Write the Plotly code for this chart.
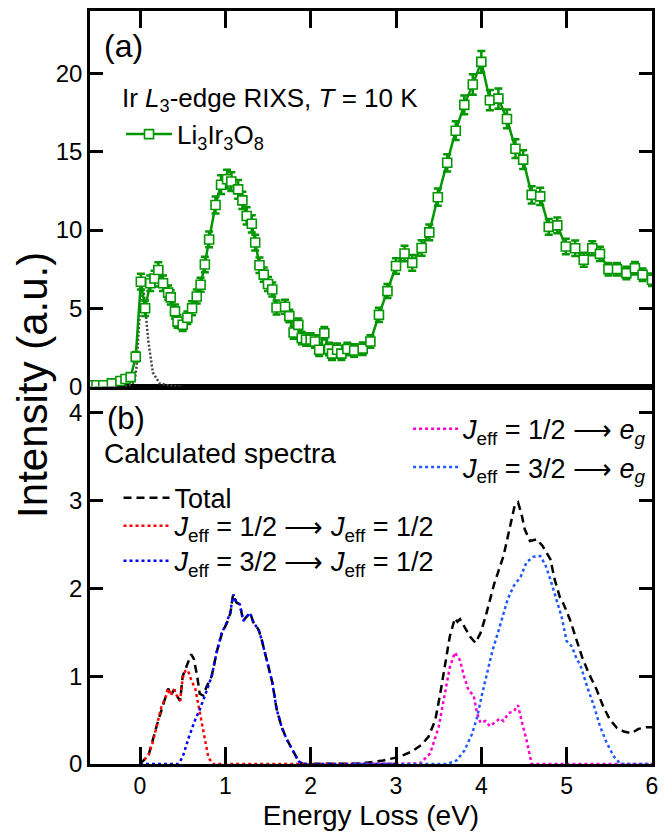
import plotly.graph_objects as go

# ---------------- Panel (a): measured RIXS spectrum ----------------
E_a = [-0.58, -0.51, -0.43, -0.33, -0.23, -0.17, -0.11, -0.05, 0.01, 0.06,
       0.12, 0.17, 0.215, 0.27, 0.33, 0.36, 0.41, 0.44, 0.50, 0.555,
       0.61, 0.665, 0.71, 0.76, 0.81, 0.885, 0.95, 1.02, 1.07, 1.15,
       1.20, 1.25, 1.31, 1.35, 1.40, 1.45, 1.50, 1.55, 1.60, 1.70,
       1.75, 1.80, 1.855, 1.895, 1.946, 2.0, 2.05, 2.10, 2.16, 2.215,
       2.25, 2.31, 2.36, 2.43, 2.51, 2.61, 2.70, 2.80, 2.90, 3.0,
       3.10, 3.19, 3.30, 3.39, 3.49, 3.60, 3.70, 3.80, 3.90, 4.0,
       4.10, 4.20, 4.30, 4.40, 4.49, 4.59, 4.69, 4.79, 4.89, 4.99,
       5.10, 5.20, 5.30, 5.39, 5.49, 5.59, 5.70, 5.80, 5.89, 6.0]
I_a = [0.08, 0.08, 0.08, 0.2, 0.35, 0.48, 0.6, 1.9, 6.7, 5.0,
       6.6, 6.9, 7.45, 6.6, 6.0, 5.7, 4.8, 4.15, 3.95, 4.4,
       5.0, 5.75, 6.5, 7.8, 9.4, 11.6, 12.9, 13.25, 13.1, 12.6,
       11.9, 10.9, 10.4, 9.2, 7.75, 7.15, 6.55, 6.2, 5.05, 5.1,
       4.5, 3.45, 3.94, 3.1, 3.0, 3.0, 2.88, 2.35, 3.4, 2.4,
       2.1, 2.35, 2.1, 2.4, 2.3, 2.42, 2.88, 4.58, 6.1, 7.7,
       8.5, 7.9, 8.85, 9.85, 12.1, 14.3, 16.35, 18.0, 19.3, 20.75,
       18.3, 18.4, 17.1, 15.2, 14.5, 12.25, 12.15, 10.2, 10.3, 8.95,
       8.84, 8.1, 8.84, 8.48, 7.5, 7.5, 7.25, 7.56, 7.14, 6.82]
err_a = [0.1, 0.1, 0.1, 0.1, 0.15, 0.15, 0.2, 0.3, 0.5, 0.5,
         0.5, 0.5, 0.5, 0.5, 0.45, 0.45, 0.45, 0.4, 0.4, 0.4,
         0.45, 0.45, 0.45, 0.5, 0.5, 0.55, 0.6, 0.6, 0.6, 0.6,
         0.55, 0.55, 0.55, 0.5, 0.5, 0.45, 0.45, 0.45, 0.45, 0.45,
         0.4, 0.4, 0.4, 0.4, 0.4, 0.4, 0.4, 0.4, 0.4, 0.4,
         0.4, 0.4, 0.4, 0.4, 0.4, 0.4, 0.4, 0.45, 0.45, 0.5,
         0.5, 0.5, 0.5, 0.5, 0.55, 0.55, 0.6, 0.6, 0.65, 0.7,
         0.65, 0.65, 0.6, 0.6, 0.6, 0.55, 0.55, 0.5, 0.5, 0.5,
         0.5, 0.45, 0.45, 0.45, 0.4, 0.4, 0.4, 0.4, 0.4, 0.4]

# elastic line
E_el = [-0.55, -0.3, -0.15, -0.1, -0.06, -0.04, -0.02, 0.0, 0.02, 0.04, 0.06, 0.1, 0.15, 0.23, 0.35, 0.5]
I_el = [0, 0, 0.02, 0.1, 0.4, 1.3, 3.4, 5.8, 7.0, 6.2, 4.9, 2.8, 0.9, 0.2, 0.05, 0]

# ---------------- Panel (b): calculated spectra ----------------
E_tot = [0, 0.1, 0.2, 0.3, 0.33, 0.36, 0.4, 0.43, 0.47, 0.5,
         0.53, 0.56, 0.6, 0.63, 0.67, 0.7, 0.74, 0.78, 0.84, 0.9,
         0.96, 1.02, 1.06, 1.09, 1.13, 1.17, 1.21, 1.25, 1.29, 1.33,
         1.39, 1.43, 1.49, 1.55, 1.6, 1.66, 1.72, 1.8, 1.86, 1.91,
         2.0, 2.3, 2.58, 2.85, 3.03, 3.18, 3.3, 3.38, 3.46, 3.52,
         3.58, 3.63, 3.69, 3.72, 3.75, 3.81, 3.87, 3.93, 3.99, 4.05,
         4.1, 4.15, 4.26, 4.33, 4.39, 4.43, 4.47, 4.51, 4.57, 4.65,
         4.72, 4.81, 4.86, 4.92, 4.96, 5.04, 5.1, 5.18, 5.26, 5.35,
         5.43, 5.51, 5.59, 5.67, 5.76, 5.84, 5.94, 6.0]
V_tot = [0, 0.1, 0.45, 0.76, 0.86, 0.78, 0.85, 0.78, 0.72, 1.0,
         1.08, 1.15, 1.25, 1.2, 1.0, 0.8, 0.78, 0.88, 1.0, 1.28,
         1.49, 1.61, 1.72, 1.93, 1.84, 1.82, 1.63, 1.68, 1.72, 1.61,
         1.53, 1.4, 1.15, 0.93, 0.63, 0.42, 0.28, 0.13, 0.03, 0,
         0, 0, 0.005, 0.04, 0.08, 0.14, 0.22, 0.31, 0.5, 0.81,
         1.15, 1.45, 1.66, 1.62, 1.65, 1.55, 1.45, 1.38, 1.49, 1.68,
         1.87, 2.05, 2.37, 2.67, 2.94, 2.98, 2.85, 2.67, 2.54, 2.56,
         2.48, 2.33, 2.1, 1.9, 1.83, 1.64, 1.45, 1.22, 1.03, 0.85,
         0.65, 0.5, 0.41, 0.37, 0.35, 0.4, 0.42, 0.42]

E_r = [0, 0.05, 0.1, 0.15, 0.2, 0.25, 0.3, 0.33, 0.36, 0.4, 0.43, 0.47,
       0.5, 0.53, 0.56, 0.6, 0.65, 0.7, 0.75, 0.8, 0.85, 3.0]
V_r = [0, 0.05, 0.1, 0.25, 0.45, 0.65, 0.76, 0.86, 0.78, 0.85, 0.78, 0.72,
       0.98, 1.06, 1.07, 0.96, 0.85, 0.58, 0.32, 0.08, 0, 0]

E_b1 = [0, 0.45, 0.5, 0.567, 0.645, 0.7, 0.78, 0.84, 0.9, 0.957,
        1.016, 1.055, 1.094, 1.13, 1.17, 1.21, 1.25, 1.29, 1.33, 1.39,
        1.43, 1.49, 1.55, 1.6, 1.66, 1.72, 1.8, 1.86, 1.91, 3.0]
V_b1 = [0, 0, 0.08, 0.29, 0.5, 0.62, 0.83, 1.0, 1.28, 1.49,
        1.61, 1.72, 1.93, 1.84, 1.82, 1.63, 1.68, 1.72, 1.61, 1.53,
        1.4, 1.15, 0.93, 0.63, 0.42, 0.28, 0.13, 0.03, 0, 0]

E_m = [2.5, 3.28, 3.4, 3.5, 3.58, 3.63, 3.69, 3.75, 3.8, 3.85,
       3.91, 3.95, 3.99, 4.05, 4.1, 4.16, 4.22, 4.26, 4.32, 4.38,
       4.43, 4.47, 4.53, 4.59, 6.0]
V_m = [0, 0.005, 0.12, 0.42, 0.84, 1.1, 1.27, 1.18, 0.99, 0.84,
       0.78, 0.58, 0.47, 0.49, 0.43, 0.47, 0.52, 0.49, 0.58, 0.6,
       0.67, 0.5, 0.27, 0, 0]

E_b2 = [2.5, 3.6, 3.71, 3.8, 3.89, 3.95, 4.01, 4.07, 4.13, 4.19,
        4.25, 4.31, 4.38, 4.46, 4.53, 4.61, 4.69, 4.75, 4.81, 4.88,
        4.94, 5.0, 5.06, 5.12, 5.16, 5.24, 5.32, 5.39, 5.47, 5.55,
        5.63, 6.0]
V_b2 = [0, 0, 0.04, 0.15, 0.34, 0.53, 0.8, 1.06, 1.29, 1.48,
        1.69, 1.88, 2.03, 2.13, 2.3, 2.36, 2.37, 2.27, 2.1, 1.87,
        1.68, 1.4, 1.34, 1.19, 1.13, 0.88, 0.66, 0.43, 0.24, 0.09,
        0, 0]

x_ticks = [0, 1, 2, 3, 4, 5, 6]
ya_ticks = [0, 5, 10, 15, 20]
yb_ticks = [0, 1, 2, 3, 4]

GREEN = "#009600"
FONT = "Liberation Sans, Arial, Helvetica, sans-serif"
SPLIT = 0.5013
ARROW = "⟶"

fig = go.Figure()

# panel (a)
fig.add_trace(go.Scatter(
    x=E_el, y=I_el, mode="lines", xaxis="x2", yaxis="y2", showlegend=False,
    line=dict(color="#444444", width=2.5, dash="2px,2px")))
fig.add_trace(go.Scatter(
    x=E_a, y=I_a, mode="lines+markers", xaxis="x2", yaxis="y2",
    name="Li<sub>3</sub>Ir<sub>3</sub>O<sub>8</sub>", legend="legend",
    line=dict(color=GREEN, width=2.5),
    marker=dict(symbol="square", size=9, color="white", line=dict(color=GREEN, width=1.6)),
    error_y=dict(type="data", array=err_a, visible=True, color=GREEN, thickness=2.5, width=4)))

# panel (b)
fig.add_trace(go.Scatter(x=E_tot, y=V_tot, mode="lines", xaxis="x", yaxis="y",
                         name="Total", legend="legend2",
                         line=dict(color="black", width=2.5, dash="8px,5px")))
fig.add_trace(go.Scatter(x=E_r, y=V_r, mode="lines", xaxis="x", yaxis="y",
                         name="<i>J</i><sub>eff</sub> = 1/2 " + ARROW + " <i>J</i><sub>eff</sub> = 1/2",
                         legend="legend4",
                         line=dict(color="#ff0000", width=2.5, dash="3px,3px")))
fig.add_trace(go.Scatter(x=E_b1, y=V_b1, mode="lines", xaxis="x", yaxis="y",
                         name="<i>J</i><sub>eff</sub> = 3/2 " + ARROW + " <i>J</i><sub>eff</sub> = 1/2",
                         legend="legend5",
                         line=dict(color="#0000ff", width=2.5, dash="3px,3px")))
fig.add_trace(go.Scatter(x=E_m, y=V_m, mode="lines", xaxis="x", yaxis="y",
                         name="<i>J</i><sub>eff</sub> = 1/2 " + ARROW + " <i>e</i><sub><i>g</i></sub>",
                         legend="legend3",
                         line=dict(color="#ff00cc", width=2.5, dash="3px,3px")))
fig.add_trace(go.Scatter(x=E_b2, y=V_b2, mode="lines", xaxis="x", yaxis="y",
                         name="<i>J</i><sub>eff</sub> = 3/2 " + ARROW + " <i>e</i><sub><i>g</i></sub>",
                         legend="legend3",
                         line=dict(color="#1e5aff", width=2.5, dash="3px,3px")))

XR = [-0.586, 6.0]
axis_common = dict(showline=True, linecolor="black", linewidth=2.5, showgrid=False,
                   zeroline=False, tickcolor="black", tickwidth=2.5)

def leg(x, y, size, iw=46):
    return dict(x=x, y=y, xanchor="left", yanchor="top", font=dict(size=size),
                bgcolor="rgba(0,0,0,0)", tracegroupgap=0, itemwidth=iw)

fig.update_layout(
    width=662, height=825,
    margin=dict(l=82, r=18, t=3, b=69),
    paper_bgcolor="white", plot_bgcolor="white",
    font=dict(family=FONT, color="black", size=23),
    xaxis=dict(domain=[0, 1], anchor="y", range=XR, tickvals=x_ticks, ticks="inside", ticklen=17,
               mirror=True, tickfont=dict(size=23),
               title=dict(text="Energy Loss (eV)", font=dict(size=28), standoff=8), **axis_common),
    xaxis2=dict(domain=[0, 1], anchor="y2", range=XR, tickvals=x_ticks, ticks="inside", ticklen=17,
                side="top", mirror=True, showticklabels=False, **axis_common),
    xaxis3=dict(overlaying="x2", anchor="y2", side="bottom", range=XR, tickvals=x_ticks,
                ticks="inside", ticklen=9, showticklabels=False, showline=False, showgrid=False,
                zeroline=False, tickcolor="black", tickwidth=2.5),
    xaxis4=dict(overlaying="x", anchor="y", side="top", range=XR, tickvals=x_ticks,
                ticks="inside", ticklen=9, showticklabels=False, showline=False, showgrid=False,
                zeroline=False, tickcolor="black", tickwidth=2.5),
    yaxis=dict(domain=[0, SPLIT], anchor="x", range=[0, 4.3], tickvals=yb_ticks, ticks="inside",
               ticklen=13, mirror="ticks", tickfont=dict(size=24), **axis_common),
    yaxis2=dict(domain=[SPLIT, 1], anchor="x2", range=[0, 24], tickvals=ya_ticks, ticks="inside",
                ticklen=13, mirror="ticks", tickfont=dict(size=24), **axis_common),
    legend=leg(0.0552, 0.8676, 26),
    legend2=leg(0.0507, 0.3856, 27),
    legend4=leg(0.0507, 0.3482, 27),
    legend5=leg(0.0507, 0.3018, 27),
    legend3=leg(0.566, 0.477, 27, 45),
    annotations=[
        dict(text="(a)", x=0.021, y=0.9536, xref="paper", yref="paper", xanchor="left",
             yanchor="middle", showarrow=False, font=dict(size=32)),
        dict(text="Ir <i>L</i><sub>3</sub>-edge RIXS, <i>T</i> = 10 K", x=0.053, y=0.882,
             xref="paper", yref="paper", xanchor="left", yanchor="middle", showarrow=False,
             font=dict(size=26)),
        dict(text="(b)", x=0.027, y=0.4583, xref="paper", yref="paper", xanchor="left",
             yanchor="middle", showarrow=False, font=dict(size=31)),
        dict(text="Calculated spectra", x=0.022, y=0.4125, xref="paper", yref="paper",
             xanchor="left", yanchor="middle", showarrow=False, font=dict(size=28)),
        dict(text="Intensity (a.u.)", x=-0.1014, y=0.5035, xref="paper", yref="paper",
             xanchor="center", yanchor="middle", textangle=-90, showarrow=False,
             font=dict(size=42)),
    ],
)

fig.write_html("out.html")
